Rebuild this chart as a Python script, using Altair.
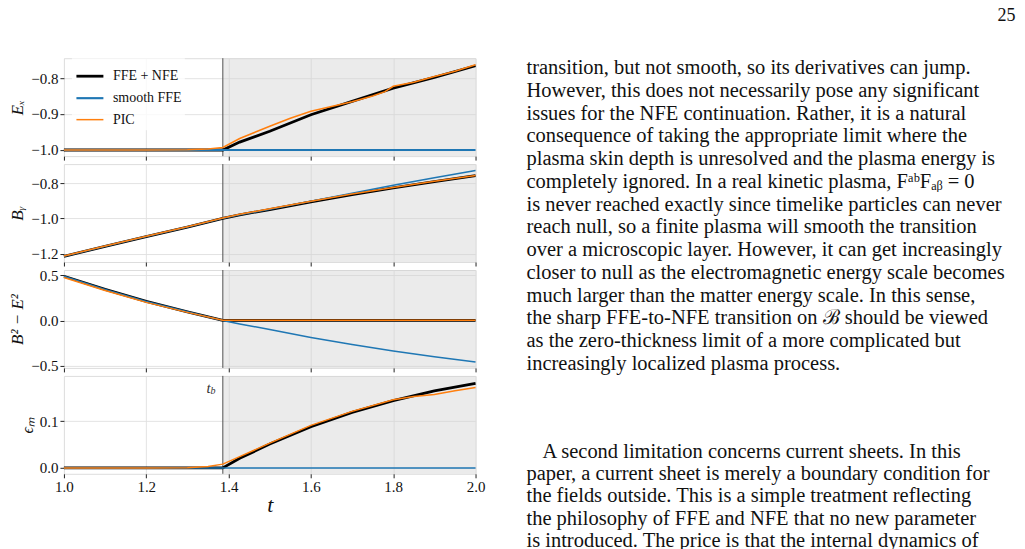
import altair as alt
import pandas as pd

T_B = 1.386
SERIES = ["FFE + NFE", "smooth FFE", "PIC"]
COLORS = ["#000000", "#1f77b4", "#ff7f0e"]
WIDTHS = [2.8, 1.5, 1.5]
X_TICKS = [1.0, 1.2, 1.4, 1.6, 1.8, 2.0]

# ---- panel 1: E_x ----
EX_FFE_T = [1.0, 1.1, 1.2, 1.3, 1.386, 1.427, 1.5, 1.6, 1.7, 1.8, 1.9, 2.0]
EX_FFE = [-1.0, -1.0, -1.0, -1.0, -1.0, -0.978, -0.948, -0.902, -0.865, -0.828, -0.798, -0.766]
EX_SMOOTH_T = [1.0, 1.5, 2.0]
EX_SMOOTH = [-1.0, -1.0, -1.0]
EX_PIC_T = [1.0, 1.1, 1.2, 1.3, 1.35, 1.386, 1.427, 1.5, 1.55, 1.6, 1.65, 1.7, 1.75, 1.78, 1.8, 1.85, 1.9, 1.95, 2.0]
EX_PIC = [-1.0, -1.0, -1.0, -0.999, -0.997, -0.993, -0.968, -0.934, -0.912, -0.8925, -0.879, -0.866, -0.850, -0.838, -0.823, -0.812, -0.796, -0.781, -0.763]

# ---- panel 2: B_y ----
BY_T = [1.0, 1.1, 1.2, 1.3, 1.386, 1.427, 1.5, 1.6, 1.7, 1.8, 1.9, 2.0]
BY_FFE = [-1.215, -1.158, -1.103, -1.049, -1.0, -0.980, -0.950, -0.907, -0.866, -0.828, -0.792, -0.758]
BY_SMOOTH = [-1.215, -1.158, -1.103, -1.049, -1.0, -0.980, -0.948, -0.903, -0.858, -0.813, -0.770, -0.729]
BY_PIC = [-1.213, -1.156, -1.101, -1.047, -0.998, -0.977, -0.946, -0.903, -0.862, -0.825, -0.790, -0.757]

# ---- panel 3: B^2 - E^2 ----
BE_FFE_T = [1.0, 1.1, 1.2, 1.3, 1.386, 1.5, 1.75, 2.0]
BE_FFE = [0.486, 0.342, 0.209, 0.095, 0.0, 0.0, 0.0, 0.0]
BE_SMOOTH_T = [1.0, 1.1, 1.2, 1.3, 1.386, 1.427, 1.5, 1.6, 1.7, 1.8, 1.9, 2.0]
BE_SMOOTH = [0.486, 0.342, 0.209, 0.095, 0.0, -0.038, -0.100, -0.187, -0.265, -0.335, -0.399, -0.458]
BE_PIC_T = [1.0, 1.1, 1.2, 1.3, 1.386, 1.5, 1.75, 2.0]
BE_PIC = [0.472, 0.330, 0.199, 0.089, 0.002, 0.003, 0.003, 0.003]

# ---- panel 4: eps_m ----
EM_FFE_T = [1.0, 1.2, 1.386, 1.427, 1.5, 1.6, 1.7, 1.8, 1.9, 2.0]
EM_FFE = [0.0, 0.0, 0.0, 0.0205, 0.051, 0.088, 0.119, 0.144, 0.165, 0.181]
EM_SMOOTH_T = [1.0, 1.5, 2.0]
EM_SMOOTH = [0.0, 0.0, 0.0]
EM_PIC_T = [1.0, 1.2, 1.3, 1.35, 1.386, 1.427, 1.5, 1.6, 1.7, 1.8, 1.85, 1.9, 1.95, 2.0]
EM_PIC = [0.0, 0.0, 0.0005, 0.003, 0.008, 0.024, 0.053, 0.091, 0.121, 0.146, 0.153, 0.157, 0.165, 0.172]

# ---- page text ----
PAGE_NUMBER = "25"
PARA1 = [
    "transition, but not smooth, so its derivatives can jump.",
    "However, this does not necessarily pose any significant",
    "issues for the NFE continuation. Rather, it is a natural",
    "consequence of taking the appropriate limit where the",
    "plasma skin depth is unresolved and the plasma energy is",
    "completely ignored. In a real kinetic plasma, FᵃᵇFₐᵦ = 0",
    "is never reached exactly since timelike particles can never",
    "reach null, so a finite plasma will smooth the transition",
    "over a microscopic layer. However, it can get increasingly",
    "closer to null as the electromagnetic energy scale becomes",
    "much larger than the matter energy scale. In this sense,",
    "the sharp FFE-to-NFE transition on ℬ should be viewed",
    "as the zero-thickness limit of a more complicated but",
    "increasingly localized plasma process.",
]
PARA2 = [
    "A second limitation concerns current sheets. In this",
    "paper, a current sheet is merely a boundary condition for",
    "the fields outside. This is a simple treatment reflecting",
    "the philosophy of FFE and NFE that no new parameter",
    "is introduced. The price is that the internal dynamics of",
]

W, H = 412, 98
TICK_FONT = "Liberation Serif"
MATH_FONT = "Liberation Serif"
TEXT_FONT = "Liberation Serif"


def long_df(triples):
    rows = []
    for name, ts, vs in triples:
        for t, v in zip(ts, vs):
            rows.append({"t": t, "v": v, "series": name})
    return pd.DataFrame(rows)


ONE = pd.DataFrame({"k": [0]})


def x_axis(bottom):
    return alt.Axis(values=X_TICKS, format=".1f", labels=bottom, title="t" if bottom else None,
                    grid=True, gridColor="#e0e0e0", gridWidth=0.9, domain=False, labelFlush=False,
                    tickSize=4, tickColor="#222", labelFont=TICK_FONT, labelFontSize=15,
                    labelColor="#111", labelPadding=2, titleFont=MATH_FONT, titleFontStyle="italic",
                    titleFontWeight="normal", titleFontSize=22, titlePadding=0, titleColor="#111")


def panel(df, domain, ticks, title, bottom=False, legend=False, title_size=17, extra=None):
    xs = alt.Scale(domain=[1.0, 2.0], nice=False, zero=False)
    ys = alt.Scale(domain=domain, nice=False, zero=False)
    xa = x_axis(bottom)
    ya = alt.Axis(values=ticks, format=".1f", title=title, grid=True, gridColor="#e0e0e0",
                  gridWidth=0.9, domain=False, tickSize=4, tickColor="#222",
                  labelFont=TICK_FONT, labelFontSize=15, labelColor="#111", labelPadding=2,
                  titleFont=MATH_FONT, titleFontStyle="italic", titleFontWeight="normal",
                  titleFontSize=title_size, titlePadding=4, titleColor="#111")
    shade = alt.Chart(ONE).mark_rect(color="#d0d0d0", opacity=0.42).encode(
        x=alt.X(datum=T_B, scale=xs, axis=xa),
        x2=alt.X2(datum=2.0),
        y=alt.value(0), y2=alt.value(H),
    )
    rule = alt.Chart(ONE).mark_rule(color="#505050", strokeWidth=1).encode(
        x=alt.X(datum=T_B, scale=xs, axis=xa)
    )
    layers = [shade, rule]
    for i, name in enumerate(SERIES):
        if legend:
            leg = alt.Legend(title=None, orient="none", legendX=8, legendY=0, symbolType="stroke",
                             symbolSize=729, rowPadding=-11, labelFont=MATH_FONT, labelFontSize=14,
                             labelColor="#111", labelOffset=8, fillColor="rgba(255,255,255,0.8)",
                             padding=3)
            enc = dict(
                color=alt.Color("series:N", scale=alt.Scale(domain=SERIES, range=COLORS), legend=leg),
                strokeWidth=alt.StrokeWidth("series:N", scale=alt.Scale(domain=SERIES, range=WIDTHS), legend=leg),
            )
            mark = alt.Chart(df).mark_line()
        else:
            enc = {}
            mark = alt.Chart(df).mark_line(color=COLORS[i], strokeWidth=WIDTHS[i])
        layers.append(
            mark.encode(
                x=alt.X("t:Q", scale=xs, axis=xa),
                y=alt.Y("v:Q", scale=ys, axis=ya),
                **enc,
            ).transform_filter(alt.datum.series == name)
        )
    if extra is not None:
        layers.extend(extra(xs, ys, xa, ya))
    return alt.layer(*layers).properties(width=W, height=H)


df_ex = long_df([(SERIES[0], EX_FFE_T, EX_FFE), (SERIES[1], EX_SMOOTH_T, EX_SMOOTH), (SERIES[2], EX_PIC_T, EX_PIC)])
df_by = long_df([(SERIES[0], BY_T, BY_FFE), (SERIES[1], BY_T, BY_SMOOTH), (SERIES[2], BY_T, BY_PIC)])
df_be = long_df([(SERIES[0], BE_FFE_T, BE_FFE), (SERIES[1], BE_SMOOTH_T, BE_SMOOTH), (SERIES[2], BE_PIC_T, BE_PIC)])
df_em = long_df([(SERIES[0], EM_FFE_T, EM_FFE), (SERIES[1], EM_SMOOTH_T, EM_SMOOTH), (SERIES[2], EM_PIC_T, EM_PIC)])


def tb_label(xs, ys, xa, ya):
    lab = pd.DataFrame({"s": ["t"]})
    main = alt.Chart(lab).mark_text(align="right", baseline="middle", font=MATH_FONT, fontStyle="italic",
                                    fontSize=15, color="#333333", dx=-4).encode(
        x=alt.X(datum=1.366, scale=xs, axis=xa), y=alt.Y(datum=0.172, scale=ys, axis=ya), text="s:N")
    sub = pd.DataFrame({"s": ["b"]})
    subm = alt.Chart(sub).mark_text(align="left", baseline="middle", font=MATH_FONT, fontStyle="italic",
                                    fontSize=10, color="#333333", dx=-4, dy=3).encode(
        x=alt.X(datum=1.366, scale=xs, axis=xa), y=alt.Y(datum=0.172, scale=ys, axis=ya), text="s:N")
    return [main, subm]


p1 = panel(df_ex, [-1.017, -0.745], [-1.0, -0.9, -0.8], "Eₓ", legend=True)
p2 = panel(df_by, [-1.247, -0.693], [-1.2, -1.0, -0.8], "Bᵧ")
p3 = panel(df_be, [-0.522, 0.555], [-0.5, 0.0, 0.5], "B² − E²")
p4 = panel(df_em, [-0.0127, 0.197], [0.0, 0.1], "ϵₘ", bottom=True, title_size=16, extra=tb_label)

left = alt.vconcat(p1, p2, p3, p4, spacing=8, bounds="flush").resolve_legend(
    color="independent", strokeWidth="independent")

# ---- text column ----
TW, TH = 528, 492
TX = 30
FS = 20.5
df_p1 = pd.DataFrame({"row": list(range(len(PARA1))), "text": PARA1})
df_p2 = pd.DataFrame({"row": list(range(len(PARA2))), "text": PARA2})
Y1 = alt.Scale(domain=[0, len(PARA1) - 1], range=[10, 306])
Y2 = alt.Scale(domain=[0, len(PARA2) - 1], range=[394, 483])
t1 = alt.Chart(df_p1).mark_text(align="left", baseline="middle", font=TEXT_FONT, fontSize=FS, color="#111").encode(
    x=alt.value(TX), y=alt.Y("row:Q", scale=Y1, axis=None), text="text:N")
t2a = alt.Chart(df_p2).transform_filter("datum.row == 0").mark_text(
    align="left", baseline="middle", font=TEXT_FONT, fontSize=FS, color="#111").encode(
    x=alt.value(TX + 16), y=alt.Y("row:Q", scale=Y2, axis=None), text="text:N")
t2b = alt.Chart(df_p2).transform_filter("datum.row > 0").mark_text(
    align="left", baseline="middle", font=TEXT_FONT, fontSize=FS, color="#111").encode(
    x=alt.value(TX), y=alt.Y("row:Q", scale=Y2, axis=None), text="text:N")
right = alt.layer(t1, t2a, t2b).resolve_scale(y="independent").properties(
    width=TW, height=TH, view=alt.ViewBackground(stroke="transparent"))

chart = alt.hconcat(left, right, spacing=10).resolve_legend(
    color="independent", strokeWidth="independent").properties(
    title=alt.TitleParams(PAGE_NUMBER, anchor="end", font=TEXT_FONT, fontSize=18, fontWeight="normal",
                          color="#111", offset=32, dx=-9),
    padding={"left": 8, "top": 7, "right": 0, "bottom": 0},
).configure_view(stroke="#333333", strokeWidth=1).configure(background="white")

chart.save("out.html", embed_options={"renderer": "svg", "actions": False})
